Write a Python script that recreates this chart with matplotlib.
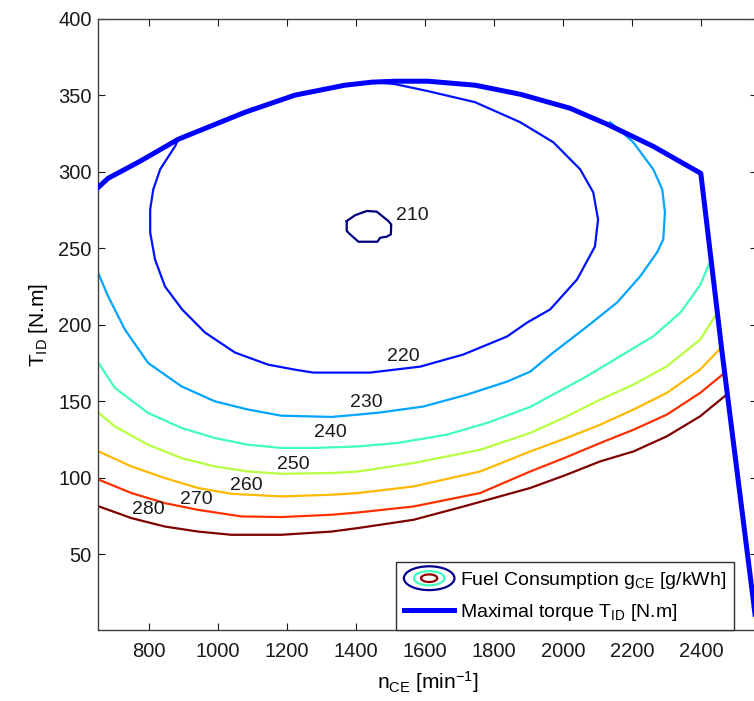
import numpy as np
import matplotlib
matplotlib.use("Agg")
import matplotlib.pyplot as plt
from matplotlib.patches import Ellipse
from matplotlib.lines import Line2D
from matplotlib.legend_handler import HandlerBase

plt.rcParams['font.family'] = ['Liberation Sans', 'DejaVu Sans']
plt.rcParams['mathtext.fontset'] = 'custom'
plt.rcParams['mathtext.rm'] = 'Liberation Sans'
plt.rcParams['mathtext.it'] = 'Liberation Sans'

# maximal torque curve (n [min^-1], T [N.m])
n_max = [653, 681, 774, 884, 1078, 1223, 1368, 1447, 1513, 1609, 1745, 1876, 2021, 2128, 2262, 2400, 2460, 2552, 2563]
T_max = [290, 295.8, 307, 321.3, 339, 350.2, 356.7, 358.7, 359.3, 359.3, 356.7, 350.8, 341.6, 331.2, 316.7, 299, 185, 20, 0]

# fuel consumption iso-lines (g/kWh)
levels = [210, 220, 230, 240, 250, 260, 270, 280]

n_210 = [1373, 1397, 1431, 1460, 1494, 1502, 1501, 1489, 1470, 1462, 1407, 1383, 1373, 1373]
T_210 = [267.8, 271.6, 274.4, 274, 267.8, 265.6, 259.1, 257.6, 256.9, 254.3, 254.3, 259.1, 261.3, 267.8]

n_220 = [884, 875, 832, 812, 803, 803, 817, 846, 896, 962, 1049, 1145, 1223, 1276, 1441, 1586, 1711,
         1838, 1896, 1963, 2041, 2093, 2102, 2088, 2050, 1972, 1876, 1745, 1609, 1513, 1450]
T_220 = [321, 316.7, 301.7, 288.6, 275.5, 260.4, 242.7, 225, 209.9, 194.9, 181.8, 173.9, 170.6, 168.7,
         168.7, 172.6, 180.5, 192.3, 201.4, 210, 229.6, 251.2, 268.9, 286.6, 301.7, 319.4, 332.5, 345.6,
         352.8, 357.4, 358.7]

n_230 = [650, 681, 729.5, 797, 893.7, 990.5, 1087, 1183.7, 1328.7, 1406, 1470, 1595, 1722, 1838, 1905,
         1972, 2070, 2157, 2224, 2273, 2291, 2296, 2288, 2262, 2204, 2137]
T_230 = [235, 218.6, 196.9, 175, 159.7, 149.9, 144.5, 140.5, 139.7, 141.2, 142.6, 146.5, 154.3, 162.8,
         169.3, 181.8, 198.8, 214.5, 231.6, 247.3, 255.8, 273.5, 288.6, 301.7, 319.4, 332.5]

n_240 = [650, 700.5, 797, 893.7, 990.5, 1087, 1183.7, 1280.5, 1406, 1518.3, 1663.3, 1779.3, 1905,
         2069.3, 2166, 2262.5, 2340, 2398, 2430]
T_240 = [176, 158.7, 142.3, 132.5, 125.9, 121.5, 119.4, 119.4, 120.4, 122.6, 128.1, 135.7, 146.2,
         166.3, 179.4, 192.5, 207.8, 225.8, 243]

n_250 = [650, 700.5, 797, 893.7, 990.5, 1087, 1183.7, 1328.7, 1406, 1566.5, 1760, 1905, 2006, 2108,
         2204.5, 2301.3, 2398, 2448]
T_250 = [143, 133.5, 121.5, 112.8, 107.3, 104, 102.5, 103, 104, 109.5, 118.2, 129.2, 139.5, 151,
         160.8, 172.8, 190.3, 208]

n_260 = [650, 748.7, 845.5, 942, 1038.7, 1183.7, 1328.7, 1406, 1566.5, 1760, 1905, 2006, 2108, 2204.5,
         2301.3, 2398, 2459]
T_260 = [117.5, 107.3, 99.7, 93.2, 89.4, 87.7, 88.8, 89.9, 94.2, 104, 117.1, 125.5, 134.6, 144.5,
         155.4, 170.7, 185]

n_270 = [650, 748.7, 845.5, 942, 1067.7, 1183.7, 1328.7, 1406, 1566.5, 1760, 1905, 2006, 2108, 2204.5,
         2301.3, 2398, 2469]
T_270 = [99, 89.9, 83.3, 78.9, 74.6, 74.2, 75.7, 77.2, 81.1, 89.9, 104, 113, 122.6, 131.3, 141.2,
         155.4, 168.5]

n_280 = [650, 748.7, 845.5, 942, 1038.7, 1183.7, 1328.7, 1406, 1566.5, 1711.5, 1905, 2006, 2108,
         2204.5, 2301.3, 2398, 2477]
T_280 = [81.5, 73.5, 68, 64.7, 62.6, 62.6, 64.7, 67, 72.4, 81.1, 93.2, 101.5, 110.6, 117.1, 127,
         140.1, 154.7]

iso_n = [n_210, n_220, n_230, n_240, n_250, n_260, n_270, n_280]
iso_T = [T_210, T_220, T_230, T_240, T_250, T_260, T_270, T_280]

# where the level numbers sit
lab_n = [1563, 1537, 1429, 1325, 1218, 1081, 936, 797]
lab_T = [271.6, 179, 149, 129.4, 108.4, 94.7, 85.5, 78.9]

fig = plt.figure(figsize=(7.54, 7.01), dpi=100)
ax = fig.add_axes([0.1306, 0.1006, 0.8734, 0.8723])

norm = plt.Normalize(min(levels), max(levels))
cmap = plt.cm.jet
for lev, xs, ys in zip(levels, iso_n, iso_T):
    ax.plot(xs, ys, color=cmap(norm(lev)), lw=1.6, zorder=2)

for lev, xl, yl in zip(levels, lab_n, lab_T):
    ax.text(xl, yl, str(lev), fontsize=14, ha='center', va='center', color='#1a1a1a', zorder=4)

ax.plot(n_max, T_max, color='#0000ff', lw=3.6, zorder=3, solid_joinstyle='round')

ax.set_xlim(653, 2563)
ax.set_ylim(0, 400)
ax.set_xticks(range(800, 2401, 200))
ax.set_yticks(range(50, 401, 50))
ax.tick_params(direction='in', top=True, right=True, length=5, labelsize=14.5, colors='#1a1a1a')
ax.tick_params(axis='x', pad=8)
ax.tick_params(axis='y', pad=5)
for s in ax.spines.values():
    s.set_color('#404040')
    s.set_linewidth(1.0)

ax.set_xlabel(r'n$_\mathrm{CE}$ [min$^\mathrm{-1}$]', fontsize=15, labelpad=6)
ax.set_ylabel(r'T$_\mathrm{ID}$ [N.m]', fontsize=15, labelpad=6)


class ContourIcon(object):
    pass


class HandlerContourIcon(HandlerBase):
    def create_artists(self, legend, orig_handle, xdescent, ydescent, width, height, fontsize, trans):
        cx = width / 2 - xdescent
        cy = height / 2 - ydescent
        arts = []
        for s, c in zip([1.0, 0.6, 0.32], ['#00008f', '#40ffbf', '#8f0000']):
            e = Ellipse((cx, cy), width * s, height * 1.75 * s, fill=False, ec=c, lw=1.6, transform=trans)
            arts.append(e)
        return arts


leg_handles = [ContourIcon(), Line2D([], [], color='#0000ff', lw=3.6)]
leg_labels = [r'Fuel Consumption g$_\mathrm{CE}$ [g/kWh]', r'Maximal torque T$_\mathrm{ID}$ [N.m]']
leg = ax.legend(leg_handles, leg_labels, handler_map={ContourIcon: HandlerContourIcon()},
                loc='lower right', bbox_to_anchor=(0.9655, 0.0), borderaxespad=0, fontsize=14,
                handlelength=2.6, handletextpad=0.3, labelspacing=0.55, fancybox=False,
                edgecolor='#303030', framealpha=1, borderpad=0.4)
leg.get_frame().set_linewidth(1.0)

fig.savefig('out.png', dpi=100)
